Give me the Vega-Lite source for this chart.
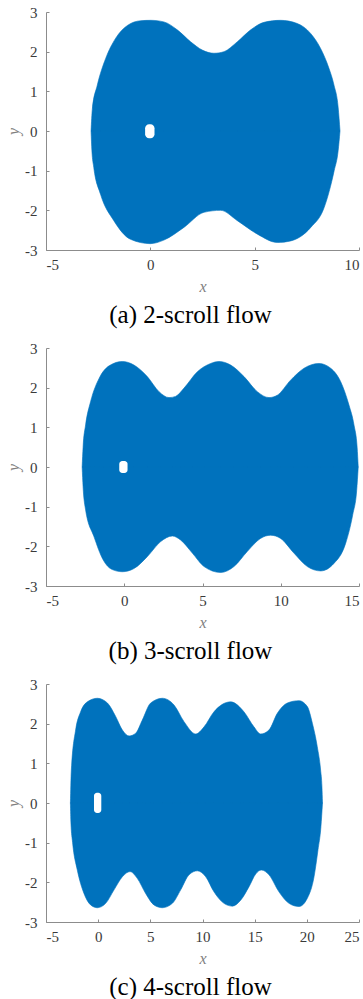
{
  "$schema": "https://vega.github.io/schema/vega-lite/v6.json",
  "padding": {"left": 5, "top": 5, "right": 0, "bottom": 0},
  "background": "white",
  "bounds": "flush",
  "spacing": 98,
  "config": {
    "view": {"stroke": null},
    "axis": {
      "grid": false,
      "domainColor": "#8c8c8c",
      "tickColor": "#8c8c8c",
      "tickSize": -3,
      "labelFont": "Liberation Serif, Times New Roman, serif",
      "labelFontSize": 15,
      "labelColor": "#3a3a3a",
      "labelOverlap": false,
      "labelExpr": "'' + datum.value",
      "titleFont": "Liberation Serif, Times New Roman, serif",
      "titleFontSize": 16,
      "titleFontStyle": "italic",
      "titleFontWeight": "normal",
      "titleColor": "#808080"
    },
    "axisX": {"labelPadding": 10, "titlePadding": 6, "tickCount": 12},
    "axisY": {"labelPadding": 12, "titlePadding": 3, "tickCount": 12},
    "title": {"font": "Liberation Serif, Times New Roman, serif", "fontSize": 25, "fontWeight": "normal", "color": "#000000", "orient": "bottom", "offset": 9, "dx": -12}
  },
  "datasets": {
    "a": [
      {"part": "u", "x": -2.84, "y": 0},
      {"part": "u", "x": -2.78, "y": 0.55},
      {"part": "u", "x": -2.54, "y": 1.16},
      {"part": "u", "x": -2.14, "y": 1.83},
      {"part": "u", "x": -1.66, "y": 2.34},
      {"part": "u", "x": -1.1, "y": 2.66},
      {"part": "u", "x": -0.46, "y": 2.78},
      {"part": "u", "x": 0.02, "y": 2.79},
      {"part": "u", "x": 0.65, "y": 2.75},
      {"part": "u", "x": 1.29, "y": 2.55},
      {"part": "u", "x": 1.93, "y": 2.25},
      {"part": "u", "x": 2.49, "y": 2.04},
      {"part": "u", "x": 3.05, "y": 1.96},
      {"part": "u", "x": 3.53, "y": 2.0},
      {"part": "u", "x": 4.17, "y": 2.25},
      {"part": "u", "x": 4.81, "y": 2.55},
      {"part": "u", "x": 5.45, "y": 2.74},
      {"part": "u", "x": 6.24, "y": 2.79},
      {"part": "u", "x": 7.04, "y": 2.71},
      {"part": "u", "x": 7.68, "y": 2.46},
      {"part": "u", "x": 8.16, "y": 2.08},
      {"part": "u", "x": 8.56, "y": 1.58},
      {"part": "u", "x": 8.8, "y": 1.16},
      {"part": "u", "x": 9.0, "y": 0.6},
      {"part": "u", "x": 9.09, "y": 0},
      {"part": "l", "x": -2.84, "y": 0},
      {"part": "l", "x": -2.8, "y": -0.5},
      {"part": "l", "x": -2.71, "y": -0.92},
      {"part": "l", "x": -2.39, "y": -1.59},
      {"part": "l", "x": -1.75, "y": -2.26},
      {"part": "l", "x": -0.95, "y": -2.73},
      {"part": "l", "x": 0.0, "y": -2.84},
      {"part": "l", "x": 0.65, "y": -2.75},
      {"part": "l", "x": 1.61, "y": -2.43},
      {"part": "l", "x": 2.57, "y": -2.05},
      {"part": "l", "x": 3.37, "y": -2.0},
      {"part": "l", "x": 4.17, "y": -2.26},
      {"part": "l", "x": 5.13, "y": -2.6},
      {"part": "l", "x": 6.09, "y": -2.81},
      {"part": "l", "x": 6.73, "y": -2.77},
      {"part": "l", "x": 7.69, "y": -2.43},
      {"part": "l", "x": 8.33, "y": -1.93},
      {"part": "l", "x": 8.81, "y": -1.0},
      {"part": "l", "x": 9.0, "y": -0.5},
      {"part": "l", "x": 9.09, "y": 0}
    ],
    "b": [
      {"part": "u", "x": -2.69, "y": 0},
      {"part": "u", "x": -2.63, "y": 0.5},
      {"part": "u", "x": -2.47, "y": 1.06},
      {"part": "u", "x": -2.15, "y": 1.65},
      {"part": "u", "x": -1.6, "y": 2.24},
      {"part": "u", "x": -0.97, "y": 2.55},
      {"part": "u", "x": -0.12, "y": 2.66},
      {"part": "u", "x": 0.62, "y": 2.57},
      {"part": "u", "x": 1.47, "y": 2.28},
      {"part": "u", "x": 2.22, "y": 1.9},
      {"part": "u", "x": 2.86, "y": 1.75},
      {"part": "u", "x": 3.28, "y": 1.78},
      {"part": "u", "x": 3.82, "y": 1.99},
      {"part": "u", "x": 4.67, "y": 2.4},
      {"part": "u", "x": 5.52, "y": 2.61},
      {"part": "u", "x": 6.05, "y": 2.66},
      {"part": "u", "x": 6.8, "y": 2.57},
      {"part": "u", "x": 7.65, "y": 2.28},
      {"part": "u", "x": 8.5, "y": 1.9},
      {"part": "u", "x": 9.25, "y": 1.75},
      {"part": "u", "x": 9.78, "y": 1.81},
      {"part": "u", "x": 10.63, "y": 2.19},
      {"part": "u", "x": 11.49, "y": 2.49},
      {"part": "u", "x": 12.44, "y": 2.61},
      {"part": "u", "x": 13.19, "y": 2.49},
      {"part": "u", "x": 13.83, "y": 2.15},
      {"part": "u", "x": 14.36, "y": 1.56},
      {"part": "u", "x": 14.68, "y": 1.06},
      {"part": "u", "x": 14.88, "y": 0.5},
      {"part": "u", "x": 14.95, "y": 0},
      {"part": "l", "x": -2.69, "y": 0},
      {"part": "l", "x": -2.63, "y": -0.5},
      {"part": "l", "x": -2.47, "y": -1.08},
      {"part": "l", "x": -1.93, "y": -1.76},
      {"part": "l", "x": -1.35, "y": -2.34},
      {"part": "l", "x": -0.8, "y": -2.58},
      {"part": "l", "x": -0.12, "y": -2.64},
      {"part": "l", "x": 0.62, "y": -2.56},
      {"part": "l", "x": 1.47, "y": -2.26},
      {"part": "l", "x": 2.33, "y": -1.88},
      {"part": "l", "x": 3.07, "y": -1.74},
      {"part": "l", "x": 3.6, "y": -1.84},
      {"part": "l", "x": 4.35, "y": -2.17},
      {"part": "l", "x": 5.1, "y": -2.51},
      {"part": "l", "x": 6.16, "y": -2.66},
      {"part": "l", "x": 7.01, "y": -2.51},
      {"part": "l", "x": 7.86, "y": -2.13},
      {"part": "l", "x": 8.71, "y": -1.8},
      {"part": "l", "x": 9.35, "y": -1.72},
      {"part": "l", "x": 9.99, "y": -1.8},
      {"part": "l", "x": 10.84, "y": -2.17},
      {"part": "l", "x": 11.7, "y": -2.51},
      {"part": "l", "x": 12.55, "y": -2.62},
      {"part": "l", "x": 13.4, "y": -2.43},
      {"part": "l", "x": 14.15, "y": -1.92},
      {"part": "l", "x": 14.6, "y": -1.2},
      {"part": "l", "x": 14.85, "y": -0.6},
      {"part": "l", "x": 14.95, "y": 0}
    ],
    "c": [
      {"part": "u", "x": -2.66, "y": 0},
      {"part": "u", "x": -2.62, "y": 0.45},
      {"part": "u", "x": -2.57, "y": 0.83},
      {"part": "u", "x": -2.16, "y": 1.84},
      {"part": "u", "x": -1.68, "y": 2.3},
      {"part": "u", "x": -1.04, "y": 2.55},
      {"part": "u", "x": -0.08, "y": 2.64},
      {"part": "u", "x": 0.89, "y": 2.52},
      {"part": "u", "x": 1.68, "y": 2.18},
      {"part": "u", "x": 2.32, "y": 1.84},
      {"part": "u", "x": 2.96, "y": 1.69},
      {"part": "u", "x": 3.6, "y": 1.76},
      {"part": "u", "x": 4.23, "y": 2.09},
      {"part": "u", "x": 5.03, "y": 2.52},
      {"part": "u", "x": 6.15, "y": 2.64},
      {"part": "u", "x": 7.27, "y": 2.47},
      {"part": "u", "x": 8.23, "y": 2.05},
      {"part": "u", "x": 9.35, "y": 1.74},
      {"part": "u", "x": 10.15, "y": 1.92},
      {"part": "u", "x": 11.1, "y": 2.3},
      {"part": "u", "x": 12.7, "y": 2.55},
      {"part": "u", "x": 13.97, "y": 2.3},
      {"part": "u", "x": 14.93, "y": 1.92},
      {"part": "u", "x": 15.58, "y": 1.74},
      {"part": "u", "x": 16.37, "y": 1.84},
      {"part": "u", "x": 17.17, "y": 2.26},
      {"part": "u", "x": 18.13, "y": 2.52},
      {"part": "u", "x": 19.25, "y": 2.58},
      {"part": "u", "x": 20.05, "y": 2.43},
      {"part": "u", "x": 20.53, "y": 2.01},
      {"part": "u", "x": 21.0, "y": 1.42},
      {"part": "u", "x": 21.32, "y": 0.83},
      {"part": "u", "x": 21.45, "y": 0.4},
      {"part": "u", "x": 21.5, "y": 0},
      {"part": "l", "x": -2.66, "y": 0},
      {"part": "l", "x": -2.61, "y": -0.5},
      {"part": "l", "x": -2.45, "y": -1.0},
      {"part": "l", "x": -2.0, "y": -1.69},
      {"part": "l", "x": -1.36, "y": -2.28},
      {"part": "l", "x": -0.72, "y": -2.57},
      {"part": "l", "x": -0.08, "y": -2.64},
      {"part": "l", "x": 0.72, "y": -2.53},
      {"part": "l", "x": 1.52, "y": -2.19},
      {"part": "l", "x": 2.32, "y": -1.86},
      {"part": "l", "x": 3.05, "y": -1.73},
      {"part": "l", "x": 3.75, "y": -1.9},
      {"part": "l", "x": 4.55, "y": -2.28},
      {"part": "l", "x": 5.35, "y": -2.57},
      {"part": "l", "x": 6.15, "y": -2.64},
      {"part": "l", "x": 7.11, "y": -2.53},
      {"part": "l", "x": 7.91, "y": -2.19},
      {"part": "l", "x": 8.71, "y": -1.81},
      {"part": "l", "x": 9.51, "y": -1.71},
      {"part": "l", "x": 10.31, "y": -1.86},
      {"part": "l", "x": 11.1, "y": -2.24},
      {"part": "l", "x": 12.06, "y": -2.53},
      {"part": "l", "x": 12.86, "y": -2.6},
      {"part": "l", "x": 13.66, "y": -2.45},
      {"part": "l", "x": 14.46, "y": -2.11},
      {"part": "l", "x": 15.1, "y": -1.79},
      {"part": "l", "x": 15.64, "y": -1.69},
      {"part": "l", "x": 16.37, "y": -1.81},
      {"part": "l", "x": 17.33, "y": -2.24},
      {"part": "l", "x": 18.29, "y": -2.53},
      {"part": "l", "x": 19.25, "y": -2.61},
      {"part": "l", "x": 20.05, "y": -2.4},
      {"part": "l", "x": 20.69, "y": -1.86},
      {"part": "l", "x": 21.07, "y": -1.18},
      {"part": "l", "x": 21.35, "y": -0.6},
      {"part": "l", "x": 21.5, "y": 0}
    ],
    "holeA": [{"x0": -0.25, "x1": 0.2, "y0": -0.18, "y1": 0.17}],
    "holeB": [{"x0": -0.32, "x1": 0.21, "y0": -0.15, "y1": 0.15}],
    "holeC": [{"x0": -0.4, "x1": 0.3, "y0": -0.25, "y1": 0.26}]
  },
  "vconcat": [
    {
      "width": 313, "height": 238,
      "title": {"text": "(a) 2-scroll flow"},
      "layer": [
        {
          "data": {"name": "a"},
          "mark": {"type": "area", "interpolate": "monotone", "color": "#0072BD", "stroke": "#0072BD", "strokeWidth": 0.6},
          "encoding": {
            "x": {"field": "x", "type": "quantitative", "scale": {"domain": [-5, 10], "nice": false}, "axis": {"values": [-5, 0, 5, 10], "title": "x", "labelOverlap": false, "tickCount": 12}},
            "y": {"field": "y", "type": "quantitative", "stack": null, "scale": {"domain": [-3, 3], "nice": false}, "axis": {"values": [-3, -2, -1, 0, 1, 2, 3], "title": "y", "labelOverlap": false, "tickCount": 12}},
            "y2": {"datum": 0},
            "detail": {"field": "part", "type": "nominal"}
          }
        },
        {
          "data": {"name": "holeA"},
          "mark": {"type": "rect", "color": "white", "cornerRadius": 4},
          "encoding": {
            "x": {"field": "x0", "type": "quantitative"},
            "x2": {"field": "x1"},
            "y": {"field": "y0", "type": "quantitative"},
            "y2": {"field": "y1"}
          }
        }
      ]
    },
    {
      "width": 313, "height": 238,
      "title": {"text": "(b) 3-scroll flow"},
      "layer": [
        {
          "data": {"name": "b"},
          "mark": {"type": "area", "interpolate": "monotone", "color": "#0072BD", "stroke": "#0072BD", "strokeWidth": 0.6},
          "encoding": {
            "x": {"field": "x", "type": "quantitative", "scale": {"domain": [-5, 15], "nice": false}, "axis": {"values": [-5, 0, 5, 10, 15], "title": "x", "labelOverlap": false, "tickCount": 12}},
            "y": {"field": "y", "type": "quantitative", "stack": null, "scale": {"domain": [-3, 3], "nice": false}, "axis": {"values": [-3, -2, -1, 0, 1, 2, 3], "title": "y", "labelOverlap": false, "tickCount": 12}},
            "y2": {"datum": 0},
            "detail": {"field": "part", "type": "nominal"}
          }
        },
        {
          "data": {"name": "holeB"},
          "mark": {"type": "rect", "color": "white", "cornerRadius": 3},
          "encoding": {
            "x": {"field": "x0", "type": "quantitative"},
            "x2": {"field": "x1"},
            "y": {"field": "y0", "type": "quantitative"},
            "y2": {"field": "y1"}
          }
        }
      ]
    },
    {
      "width": 313, "height": 238,
      "title": {"text": "(c) 4-scroll flow"},
      "layer": [
        {
          "data": {"name": "c"},
          "mark": {"type": "area", "interpolate": "monotone", "color": "#0072BD", "stroke": "#0072BD", "strokeWidth": 0.6},
          "encoding": {
            "x": {"field": "x", "type": "quantitative", "scale": {"domain": [-5, 25], "nice": false}, "axis": {"values": [-5, 0, 5, 10, 15, 20, 25], "title": "x", "labelOverlap": false, "tickCount": 12}},
            "y": {"field": "y", "type": "quantitative", "stack": null, "scale": {"domain": [-3, 3], "nice": false}, "axis": {"values": [-3, -2, -1, 0, 1, 2, 3], "title": "y", "labelOverlap": false, "tickCount": 12}},
            "y2": {"datum": 0},
            "detail": {"field": "part", "type": "nominal"}
          }
        },
        {
          "data": {"name": "holeC"},
          "mark": {"type": "rect", "color": "white", "cornerRadius": 3},
          "encoding": {
            "x": {"field": "x0", "type": "quantitative"},
            "x2": {"field": "x1"},
            "y": {"field": "y0", "type": "quantitative"},
            "y2": {"field": "y1"}
          }
        }
      ]
    }
  ],
  "resolve": {"scale": {"x": "independent", "y": "independent"}}
}
